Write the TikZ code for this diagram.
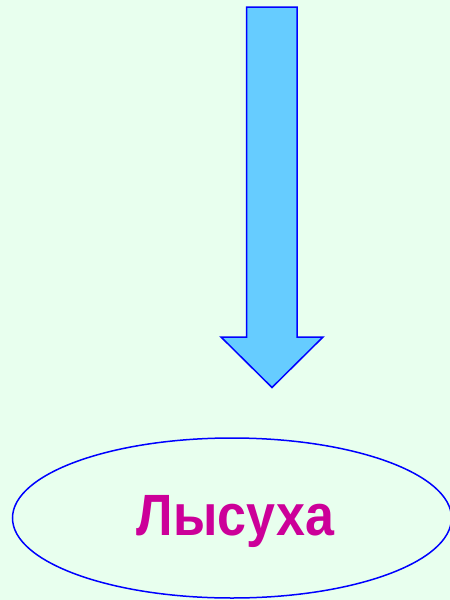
\documentclass[tikz,border=0pt]{standalone}
\usepackage{fontspec}
\setmainfont{Liberation Sans}
\definecolor{bg}{HTML}{E8FFEE}
\definecolor{arrowfill}{HTML}{66CCFF}
\definecolor{edge}{HTML}{0000FF}
\definecolor{txt}{HTML}{CC0099}
\begin{document}
\begin{tikzpicture}[x=1pt,y=-1pt,
  arrowshape/.style={draw=edge,fill=arrowfill,line width=1.5pt,line join=miter},
  ovalshape/.style={draw=edge,line width=1.5pt},
  label/.style={text=txt,font=\fontsize{52}{60}\selectfont\bfseries,yscale=1.12}]
\fill[bg] (0,0) rectangle (450,600);
\useasboundingbox (0,0) rectangle (450,600);
\draw[arrowshape] (246.5,7) -- (297,7) -- (297,337) -- (323,337) -- (272,387.5) -- (221,337) -- (246.5,337) -- cycle;
\draw[ovalshape] (232,518) ellipse [x radius=219.5, y radius=80];
\node[label] (t) at (235.5,522) {Лысуха};
\end{tikzpicture}
\end{document}
